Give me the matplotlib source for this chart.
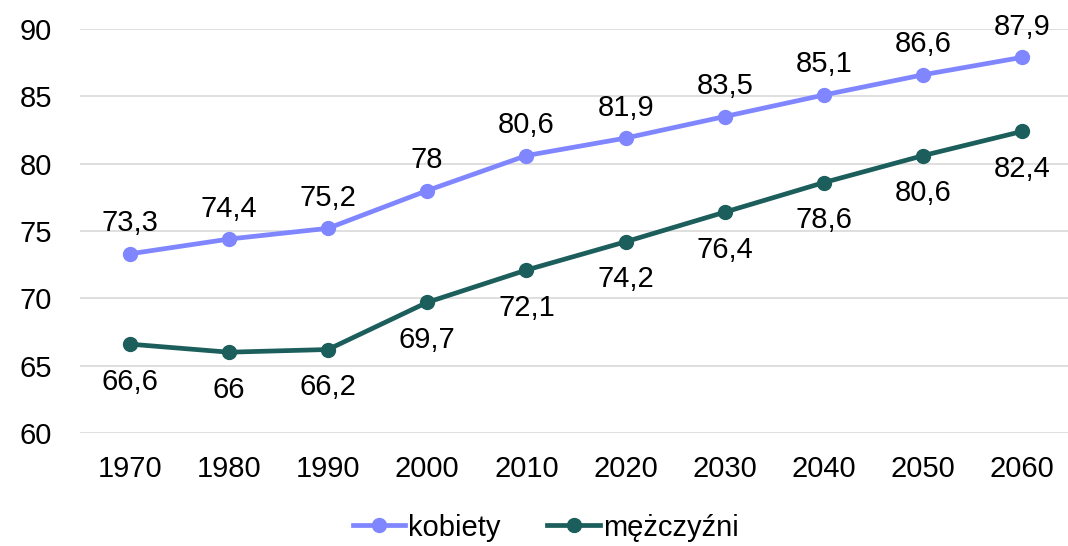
import matplotlib.pyplot as plt

plt.rcParams['font.family'] = ['Liberation Sans', 'DejaVu Sans']

# Dane
years = ['1970', '1980', '1990', '2000', '2010', '2020', '2030', '2040', '2050', '2060']
kobiety = [73.3, 74.4, 75.2, 78, 80.6, 81.9, 83.5, 85.1, 86.6, 87.9]
mezczyzni = [66.6, 66, 66.2, 69.7, 72.1, 74.2, 76.4, 78.6, 80.6, 82.4]

c_k = '#7f86ff'
c_m = '#1b5e5b'


def fmt(v):
    s = f"{v:g}"
    return s.replace('.', ',')


fig = plt.figure(figsize=(10.68, 5.46), dpi=100)
ax = fig.add_axes([80 / 1068, 113 / 546, 988 / 1068, 404 / 546])

x = range(len(years))
ax.plot(x, kobiety, '-o', color=c_k, lw=3.4, ms=10, label='kobiety', zorder=3)
ax.plot(x, mezczyzni, '-o', color=c_m, lw=3.4, ms=10, label='mężczyźni', zorder=3)

fs = 21
for i, v in enumerate(kobiety):
    ax.annotate(fmt(v), (i, v), xytext=(0, 22), textcoords='offset points',
                ha='center', va='center', fontsize=fs)
for i, v in enumerate(mezczyzni):
    ax.annotate(fmt(v), (i, v), xytext=(0, -27), textcoords='offset points',
                ha='center', va='center', fontsize=fs)

ax.set_xlim(-0.5, 9.46)
ax.set_ylim(60, 90)
ax.set_yticks(range(60, 91, 5))
ax.set_xticks(list(x))
ax.set_xticklabels(years)
ax.tick_params(axis='both', labelsize=fs, length=0)
ax.tick_params(axis='x', pad=16)
ax.tick_params(axis='y', pad=20)
ax.grid(axis='y', color='#d9d9d9', lw=1.2)
ax.set_axisbelow(True)
for s in ax.spines.values():
    s.set_visible(False)

fig.legend(loc='lower center', bbox_to_anchor=(0.511, -0.04), ncol=2, frameon=False,
           fontsize=fs, handlelength=1.8, handletextpad=0.1, columnspacing=1.6)

fig.savefig('out.png', dpi=100)
